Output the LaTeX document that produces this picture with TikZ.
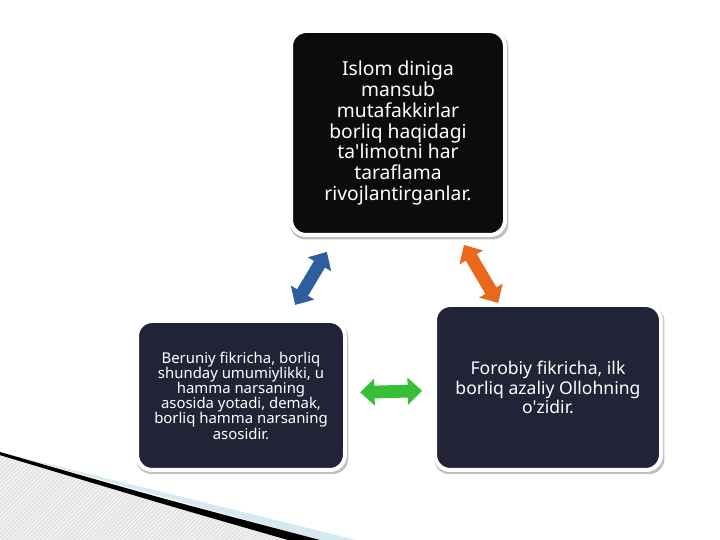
\documentclass[tikz,border=0pt]{standalone}
\usepackage{fontspec}
\setmainfont{Noto Sans}
\usetikzlibrary{calc,arrows.meta,shadows,patterns}
\definecolor{boxnavy}{RGB}{35,35,56}
\definecolor{boxblack}{RGB}{12,12,12}
\definecolor{arrblue}{RGB}{46,94,160}
\definecolor{arrorange}{RGB}{234,104,28}
\definecolor{arrgreen}{RGB}{54,192,54}
\definecolor{swooshblue}{RGB}{214,233,240}

\begin{document}
\begin{tikzpicture}[
  box/.style={rounded corners=0.38cm, draw=white, line width=0.1cm, text=white, align=center, inner sep=0pt,
    drop shadow={shadow xshift=0.03cm, shadow yshift=-0.06cm, opacity=0.5, shadow scale=1.02}},
  dblarrow/.style={line width=0.32cm, {Triangle[width=0.66cm,length=0.36cm]}-{Triangle[width=0.66cm,length=0.36cm]}}
]
\useasboundingbox (0,0) rectangle (18,13.5);
% corner swoosh
\fill[gray!22] (0,0) -- (0,2.1) -- (7.2,0) -- cycle;
\fill[pattern=north east lines, pattern color=white] (0,0) -- (0,2.1) -- (7.2,0) -- cycle;
\fill[swooshblue] (0,2.2) -- (8.9,0) -- (8.0,0) -- cycle;
\fill[black] (0,2.2) .. controls (4,1.05) .. (8.0,0) -- (7.2,0) .. controls (4,0.92) .. (0,2.12) -- cycle;

\node[box, fill=boxblack, minimum width=5.35cm, minimum height=5.1cm,
  font=\fontsize{13.7}{14.9}\selectfont] (islom) at (9.95,10.175)
  {Islom diniga\\mansub\\mutafakkirlar\\borliq haqidagi\\ta\textquotesingle limotni har\\taraflama\\rivojlantirganlar.};
\node[box, fill=boxnavy, minimum width=5.2cm, minimum height=3.725cm,
  font=\fontsize{10.6}{10.8}\selectfont] (beruniy) at (6.025,3.6125)
  {Beruniy fikricha, borliq\\shunday umumiylikki, u\\hamma narsaning\\asosida yotadi, demak,\\borliq hamma narsaning\\asosidir.};
\node[box, fill=boxnavy, minimum width=5.65cm, minimum height=4.125cm,
  font=\fontsize{12.5}{13.6}\selectfont] (forobiy) at (13.7,3.8125)
  {Forobiy fikricha, ilk\\borliq azaliy Ollohning\\o\textquotesingle zidir.};

\draw[dblarrow, arrblue] ($(islom)!0.453!(beruniy)$) -- ($(islom)!0.655!(beruniy)$);
\draw[dblarrow, arrorange] ($(islom)!0.44!(forobiy)$) -- ($(islom)!0.668!(forobiy)$);
\draw[dblarrow, arrgreen] ($(beruniy)!0.388!(forobiy)$) -- ($(beruniy)!0.59!(forobiy)$);
\end{tikzpicture}
\end{document}
